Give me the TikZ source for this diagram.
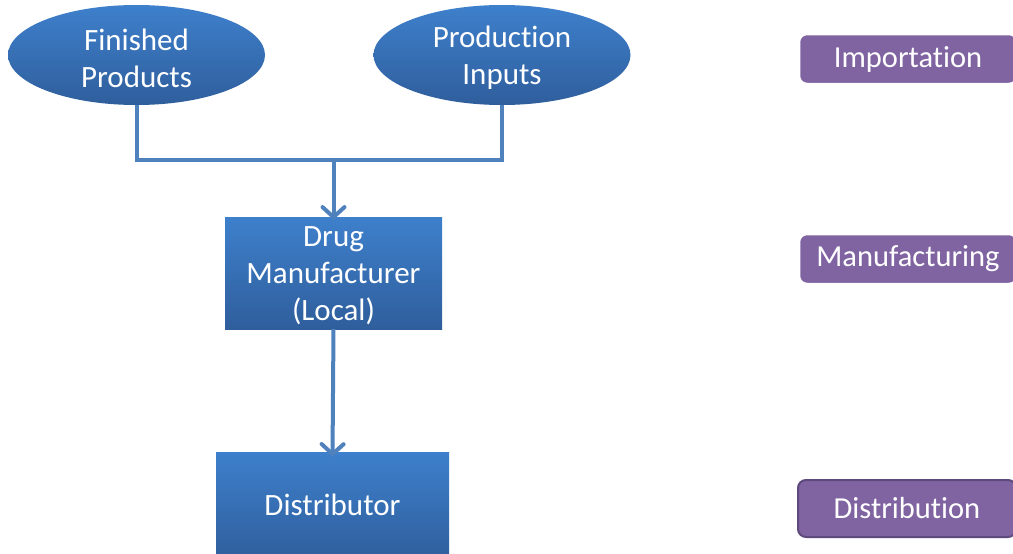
\documentclass[tikz,border=0pt]{standalone}
\usepackage{fontspec}
\setmainfont{Carlito}[Ligatures=NoCommon]
\usetikzlibrary{arrows.meta,shapes.geometric}
\definecolor{blueTop}{HTML}{3E80CC}
\definecolor{blueBot}{HTML}{2F5E9C}
\definecolor{lineBlue}{HTML}{4F81BD}
\definecolor{purp}{HTML}{8064A2}
\definecolor{purpDark}{HTML}{5E4A7C}
\tikzset{
  bluefill/.style={top color=blueTop, bottom color=blueBot, draw=none, text=white,
    font=\fontsize{31}{37}\selectfont, align=center, inner sep=0pt},
  txt/.style={text=white, font=\fontsize{31}{37}\selectfont, align=center, inner sep=0pt},
  oval/.style={bluefill, ellipse, minimum width=257pt, minimum height=100pt},
  actor/.style={bluefill, rectangle},
  stage/.style={fill=purp, draw=white, line width=2.5pt, rounded corners=8pt, text=white,
    font=\fontsize{30.5}{36}\selectfont, minimum width=218pt, minimum height=50pt, inner sep=0pt},
  conn/.style={draw=lineBlue, line width=4pt},
  tip/.style={-{Straight Barb[length=10pt,width=22pt,line width=4pt,line cap=round]}}
}
\begin{document}
\begin{tikzpicture}[x=1pt,y=-1pt]
\clip (0,0) rectangle (1013,554);
\fill[white] (0,0) rectangle (1013,554);
\node[oval] (fp) at (136.5,55) {};
\node[txt] (fpt) at (136.5,58) {Finished\\Products};
\node[oval] (pi) at (502,55) {};
\node[txt] (pit) at (502,58) {Production\\Inputs};
\node[actor, minimum width=217pt, minimum height=112pt] (dm) at (333.5,273) {};
\node[txt] (dmt) at (333.5,276) {Drug\\Manufacturer\\(Local)};
\node[actor, minimum width=233pt, minimum height=108pt] (ds) at (332.5,506) {};
\node[txt] (dst) at (332.5,505) {Distributor};
\coordinate (j) at (333.5,160);
\draw[conn] (fp.south) |- (j);
\draw[conn] (pi.south) |- (j);
\draw[conn,tip] (j) -- ([yshift=-3pt]dm.north);
\draw[conn,tip] (dm.south) -- ([yshift=-5pt]ds.north);
\node[stage] (imp) at (908,59) {Importation};
\node[stage] (man) at (908,259) {Manufacturing};
\node[stage, draw=purpDark, line width=2pt, minimum height=57pt] (dis) at (907,508.5) {Distribution};
\end{tikzpicture}
\end{document}
